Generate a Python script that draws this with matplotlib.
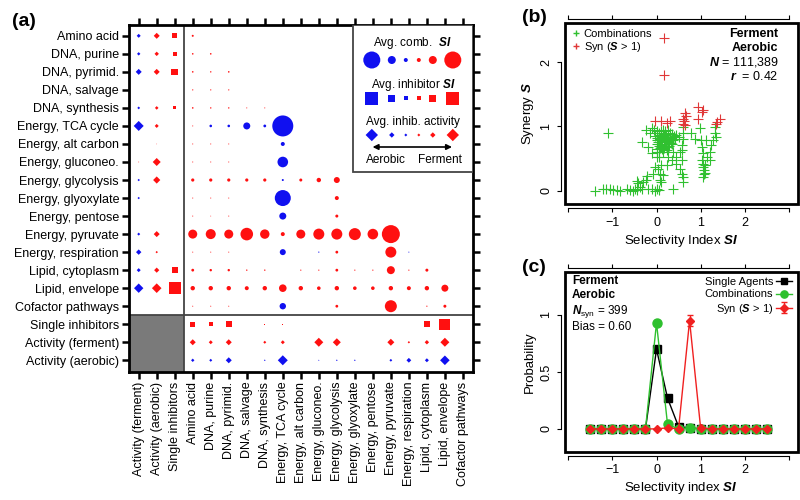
import numpy as np
import matplotlib.pyplot as plt
from matplotlib.patches import Rectangle
from matplotlib.lines import Line2D

plt.rcParams["font.family"] = ["Liberation Sans", "DejaVu Sans"]
plt.rcParams["mathtext.fontset"] = "custom"
plt.rcParams["mathtext.rm"] = "Liberation Sans"
plt.rcParams["mathtext.it"] = "Liberation Sans:italic"
plt.rcParams["mathtext.bf"] = "Liberation Sans:bold"
plt.rcParams["mathtext.bfit"] = "Liberation Sans:italic:bold"

# ---------------- data: panel (a) ----------------
categories = [
    "Amino acid", "DNA, purine", "DNA, pyrimid.", "DNA, salvage", "DNA, synthesis",
    "Energy, TCA cycle", "Energy, alt carbon", "Energy, gluconeo.", "Energy, glycolysis",
    "Energy, glyoxylate", "Energy, pentose", "Energy, pyruvate", "Energy, respiration",
    "Lipid, cytoplasm", "Lipid, envelope", "Cofactor pathways",
]
row_labels = categories + ["Single inhibitors", "Activity (ferment)", "Activity (aerobic)"]
col_labels = ["Activity (ferment)", "Activity (aerobic)", "Single inhibitors"] + categories

# signed values: negative = aerobic (blue), positive = ferment (red)
act_ferment = [-0.2, -0.17, -0.3, 0, -0.14, -0.5, 0, 0.05, -0.12, -0.12, 0, -0.15, -0.27, -0.2, -0.47, 0]
act_aerobic = [0.3, 0.22, 0.3, 0, 0.18, 0.2, 0.04, 0.4, 0.36, 0, 0, 0.3, 0.12, 0.26, 0.48, 0]
single_si = [0.25, 0.2, 0.33, 0, 0.15, 0.04, 0, 0, 0, 0, 0, 0, 0, 0.3, 0.62, 0]

comb_si = [
    [0.1],
    [0.08, 0.08],
    [0.08, 0.07, 0.08],
    [0.06, 0.06, 0.06, 0],
    [0.08, 0.07, 0.07, 0.05, 0.05],
    [0.05, -0.13, -0.13, -0.35, -0.14, -1.05],
    [0.05, 0.05, 0.05, 0, 0, -0.2, 0],
    [0.05, 0.05, 0.05, 0, 0, -0.53, 0, 0],
    [0.16, 0.16, 0.16, 0.16, 0.16, -0.1, 0.15, 0.22, 0.3],
    [0.05, 0.05, 0.05, 0, 0, -0.8, 0, 0, 0.2, 0],
    [0.05, 0.04, 0.05, 0, 0, -0.35, 0, 0, 0.15, 0, 0],
    [0.45, 0.5, 0.45, 0.63, 0.47, 0.2, 0.45, 0.55, 0.55, 0.6, 0.53, 0.9],
    [0.05, 0.05, 0.05, 0, 0, -0.3, 0, -0.06, 0.14, 0, 0, 0.55, -0.05],
    [0.14, 0.12, 0.12, 0.07, 0.07, 0, 0.06, 0.06, 0.14, 0.06, 0.06, 0.4, 0.06, 0.15],
    [0.22, 0.22, 0.22, 0.2, 0.22, 0.38, 0.22, 0.18, 0.22, 0.18, 0.18, 0.22, 0.2, 0.22, 0.35],
    [0.05, 0.05, 0.05, 0, 0, -0.32, 0, 0, 0.14, 0, 0, 0.6, 0, 0.06, 0.15, 0],
]

row_single = [0.25, 0.2, 0.32, 0, 0.07, 0.04, 0, 0, 0, 0, 0, 0, 0, 0.28, 0.55, 0]
row_ferment = [0.3, 0.2, 0.3, 0, 0.15, 0.2, 0, 0.45, 0.4, 0, 0, 0.35, 0.12, 0.22, 0.45, 0]
row_aerobic = [-0.17, -0.15, -0.3, 0, -0.08, -0.5, 0, -0.06, -0.08, -0.08, 0, -0.14, -0.24, -0.2, -0.48, 0]

legend_comb = [-0.85, -0.4, -0.2, 0.2, 0.4, 0.85]
legend_inhib = [-0.65, -0.35, -0.18, 0.18, 0.35, 0.65]
legend_act = [-0.62, -0.27, -0.15, 0.15, 0.27, 0.62]

# ---------------- data: panel (b) ----------------
combo_si = [
    -1.09, -1.40, -1.21, -1.15, -1.06, -0.98, -0.90, -0.83, -0.68, -0.60, -0.53, -0.49, -0.45,
    -0.38, -0.34, -0.19, -0.11, -0.04, 0.02, 0.06, 0.38,
    -0.41, -0.30, -0.23, -0.21, -0.45, -0.08, -0.04, 0.04, 0.08, 0.10, 0.08, 0.15, 0.00, 0.06,
    0.00, 0.26, 0.38, 0.45, 0.53, 0.57, 0.57, 0.57, 0.59, 0.60, 0.53, 0.45, 0.34, 0.23, 0.11,
    0.60, 0.60, 0.59, 0.57,
    1.04, 1.06, 1.07, 1.08, 1.06, 1.09, 1.06, 1.04, 1.15, 1.21, 1.22, 1.28, 1.32, 1.36, 1.32,
    1.24, 1.13, 0.98, 1.02, 0.87, 0.79, 1.10, 1.05,
    -0.34, -0.19, -0.11, -0.23, -0.11, -0.15,
    -0.05, 0.00, 0.05, 0.10, 0.15, 0.20, 0.25, 0.30, 0.35, 0.40, 0.45, 0.50,
    -0.03, 0.02, 0.06, 0.10, 0.14, 0.18, 0.22, 0.26, 0.30, 0.34, 0.38, 0.42,
    0.00, 0.04, 0.08, 0.12, 0.16, 0.20, 0.24, 0.28, 0.32, 0.36,
    0.00, 0.05, 0.09, 0.13, 0.17, 0.21, 0.25, 0.29,
    0.02, 0.07, 0.12, 0.18, 0.23, 0.05, 0.15, 0.10,
]
combo_s = [
    0.89, -0.01, 0.02, 0.02, 0.03, 0.01, 0.01, 0.00, 0.02, 0.01, 0.00, 0.03, 0.01,
    0.05, 0.02, 0.03, 0.02, 0.00, 0.03, 0.01, 0.03,
    0.12, 0.13, 0.16, 0.22, 0.15, 0.26, 0.37, 0.34, 0.16, 0.13, 0.26, 0.24, 0.52, 0.53,
    0.60, 0.52, 0.60, 0.52, 0.60, 0.71, 0.47, 0.26, 0.21, 0.13, 0.34, 0.42, 0.47, 0.39, 0.39,
    0.99, 0.89, 0.81, 0.63,
    0.47, 0.37, 0.32, 0.26, 0.21, 0.39, 0.58, 0.68, 0.52, 0.47, 0.60, 0.78, 0.89, 0.84, 0.99,
    0.71, 0.78, 0.97, 0.78, 0.81, 0.89, 0.28, 0.42,
    0.76, 0.68, 0.58, 0.94, 0.97, 0.90,
    0.95, 0.92, 0.90, 0.93, 0.95, 0.92, 0.94, 0.90, 0.88, 0.85, 0.86, 0.84,
    0.85, 0.82, 0.86, 0.84, 0.88, 0.85, 0.86, 0.83, 0.82, 0.80, 0.78, 0.80,
    0.78, 0.76, 0.80, 0.77, 0.79, 0.76, 0.78, 0.75, 0.74, 0.72,
    0.72, 0.70, 0.73, 0.71, 0.72, 0.70, 0.68, 0.70,
    0.65, 0.66, 0.64, 0.66, 0.63, 0.60, 0.60, 0.68,
]
syn_si = [0.17, 0.17, 0.94, 1.06, 1.04, 0.94, 1.43, 1.37, 1.36, -0.04, 0.11, 0.30,
          0.60, 0.64, 0.60, 0.63, 0.65, 0.23, 0.66]
syn_s = [2.37, 1.80, 1.30, 1.26, 1.23, 1.11, 1.12, 1.07, 1.03, 1.09, 1.09, 1.09,
         1.12, 1.20, 1.04, 1.08, 1.02, 1.05, 1.16]

# ---------------- data: panel (c) ----------------
si_bins = [-1.5, -1.25, -1.0, -0.75, -0.5, -0.25, 0.0, 0.25, 0.5, 0.75,
           1.0, 1.25, 1.5, 1.75, 2.0, 2.25, 2.5]
single_prob = [0, 0, 0, 0, 0, 0, 0.70, 0.27, 0.02, 0.01, 0, 0, 0, 0, 0, 0, 0]
comb_prob = [0, 0, 0, 0, 0, 0, 0.93, 0.04, 0.0, 0.01, 0, 0, 0, 0, 0, 0, 0]
syn_prob = [0, 0, 0, 0, 0, 0, 0.0, 0.01, 0.0, 0.95, 0.01, 0, 0, 0, 0, 0, 0]
syn_err = [0, 0, 0, 0, 0, 0, 0, 0, 0, 0.05, 0, 0, 0, 0, 0, 0, 0]

RED = "#ff1010"
BLUE = "#1010f0"
PX = 100 / 72.0


def marker_area(v, marker):
    # value 1 -> 20 px wide marker
    width_pt = 20 * abs(v) / PX
    if marker == "D":
        width_pt = width_pt / 1.414
    return width_pt ** 2


fig = plt.figure(figsize=(8, 5), dpi=100)

# ================= panel (a) =================
ax = fig.add_axes([0.161, 0.256, 0.43, 0.694])
cells = {"o": [], "s": [], "D": []}
for i in range(len(categories)):
    cells["D"].append((0, i, act_ferment[i]))
    cells["D"].append((1, i, act_aerobic[i]))
    cells["s"].append((2, i, single_si[i]))
    for k, v in enumerate(comb_si[i]):
        cells["o"].append((3 + k, i, v))
for k in range(len(categories)):
    cells["s"].append((3 + k, 16, row_single[k]))
    cells["D"].append((3 + k, 17, row_ferment[k]))
    cells["D"].append((3 + k, 18, row_aerobic[k]))

for marker, pts in cells.items():
    pts = [p for p in pts if p[2] != 0]
    xs = [p[0] for p in pts]
    ys = [p[1] for p in pts]
    ss = [marker_area(p[2], marker) for p in pts]
    cs = [RED if p[2] > 0 else BLUE for p in pts]
    ax.scatter(xs, ys, s=ss, c=cs, marker=marker, linewidths=0, zorder=2)

ax.add_patch(Rectangle((-0.6, 15.5), 3.1, 3.3, facecolor="#7a7a7a", edgecolor="none", zorder=1))
ax.axvline(2.5, color="#444444", lw=1.3, zorder=1.5)
ax.axhline(15.5, color="#444444", lw=1.3, zorder=1.5)

ax.set_xlim(-0.55, 18.55)
ax.set_ylim(18.65, -0.6)
ax.set_xticks(range(len(col_labels)))
ax.set_xticklabels(col_labels, rotation=90, fontsize=9)
ax.set_yticks(range(len(row_labels)))
ax.set_yticklabels(row_labels, fontsize=9)
ax.tick_params(direction="out", length=5, width=1.8, top=True, right=True,
               labeltop=False, labelright=False, pad=2)
for sp in ax.spines.values():
    sp.set_linewidth(2)


def afx(px):
    return (px - 129) / 344.0


def afy(py):
    return 1 - (py - 25) / 347.0


ax.add_patch(Rectangle((afx(353), afy(172)), 1 - afx(353), 1 - afy(172), transform=ax.transAxes,
                       facecolor="white", edgecolor="#444444", lw=1.3, zorder=3))
leg_x = [afx(p) for p in [372, 392, 406, 419, 433, 453]]
for title, levels, marker, ty, my in [
    ("Avg. comb.  $\\mathbfit{SI}$", legend_comb, "o", 43, 60),
    ("Avg. inhibitor $\\mathbfit{SI}$", legend_inhib, "s", 85, 98),
    ("Avg. inhib. activity", legend_act, "D", 122, 135),
]:
    ax.text(afx(413), afy(ty), title, transform=ax.transAxes, ha="center", va="center",
            fontsize=8.5, zorder=4)
    ax.scatter(leg_x, [afy(my)] * len(levels), s=[marker_area(v, marker) for v in levels],
               c=[RED if v > 0 else BLUE for v in levels], marker=marker, linewidths=0,
               transform=ax.transAxes, zorder=4, clip_on=False)
ax.annotate("", xy=(afx(455), afy(147)), xytext=(afx(370), afy(147)), xycoords="axes fraction",
            textcoords="axes fraction",
            arrowprops=dict(arrowstyle="<|-|>", color="black", lw=1.2, mutation_scale=8),
            zorder=4)
ax.text(afx(386), afy(160), "Aerobic", transform=ax.transAxes, ha="center", va="center",
        fontsize=8.5, zorder=4)
ax.text(afx(440), afy(160), "Ferment", transform=ax.transAxes, ha="center", va="center",
        fontsize=8.5, zorder=4)

fig.text(0.015, 0.956, "(a)", fontsize=14, fontweight="bold", va="center")


def r_style(a, xlim, ylim, xticks, xlabels, yticks, ylabels):
    a.set_xlim(*xlim)
    a.set_ylim(*ylim)
    a.add_patch(Rectangle((0, 0), 1, 1, transform=a.transAxes, fill=False, lw=2,
                          edgecolor="black", clip_on=False, zorder=5))
    for side in ["bottom", "top"]:
        a.spines[side].set_position(("outward", 3))
        a.spines[side].set_bounds(xticks[0], xticks[-1])
        a.spines[side].set_linewidth(0.8)
    for side in ["left", "right"]:
        a.spines[side].set_position(("outward", 3))
        a.spines[side].set_bounds(yticks[0], yticks[-1])
        a.spines[side].set_linewidth(0.8)
    a.set_xticks(xticks)
    a.set_xticklabels(xlabels, fontsize=9)
    a.set_yticks(yticks)
    a.set_yticklabels(ylabels, fontsize=9, rotation=90, va="center")
    a.tick_params(direction="out", length=3, width=0.8, top=True, right=True,
                  labeltop=False, labelright=False, pad=3)


# ================= panel (b) =================
axb = fig.add_axes([0.706, 0.592, 0.291, 0.362])
axb.scatter(combo_si, combo_s, marker="+", c="#30c030", s=45, linewidths=0.8, zorder=2)
axb.scatter(syn_si, syn_s, marker="+", c="#e03838", s=45, linewidths=0.8, zorder=3)
r_style(axb, (-2.08, 3.2), (-0.21, 2.61), [-2, -1, 0, 1, 2, 3],
        ["", "\u22121", "0", "1", "2", ""], [0, 1, 2], ["0", "1", "2"])
axb.set_xlabel("Selectivity Index $\\mathbfit{SI}$", fontsize=9.5, labelpad=3)
axb.set_ylabel("Synergy $\\mathbfit{S}$", fontsize=9.5, labelpad=3)
hb = [Line2D([], [], marker="+", ls="none", color="#30c030", markersize=5),
      Line2D([], [], marker="+", ls="none", color="#e03838", markersize=5)]
axb.legend(hb, ["Combinations", "Syn ($\\mathbfit{S}$ > 1)"], loc="upper left", frameon=False,
           fontsize=8, handletextpad=0.2, labelspacing=0.15, borderaxespad=0.3,
           handlelength=1.0, borderpad=0.2)
axb.text(0.918, 0.939, "Ferment", transform=axb.transAxes, ha="right", va="center",
         fontsize=9, fontweight="bold")
axb.text(0.918, 0.862, "Aerobic", transform=axb.transAxes, ha="right", va="center",
         fontsize=9, fontweight="bold")
axb.text(0.918, 0.785, "$\\mathbfit{N}$ = 111,389", transform=axb.transAxes, ha="right",
         va="center", fontsize=9)
axb.text(0.918, 0.707, "$\\mathbfit{r}$  = 0.42", transform=axb.transAxes, ha="right",
         va="center", fontsize=9)
fig.text(0.652, 0.964, "(b)", fontsize=14, fontweight="bold", va="center")

# ================= panel (c) =================
axc = fig.add_axes([0.706, 0.0966, 0.291, 0.36])
axc.errorbar(si_bins, single_prob, color="black", marker="s", markersize=6, lw=1,
             label="Single Agents", zorder=2)
axc.errorbar(si_bins, comb_prob, color="#2ec02e", marker="o", markersize=6.5, lw=1,
             label="Combinations", zorder=3)
axc.errorbar(si_bins, syn_prob, yerr=syn_err, color="#f02020", marker="D", markersize=4.5,
             lw=1, capsize=2, label="Syn ($\\mathbfit{S}$ > 1)", zorder=4)
r_style(axc, (-2.08, 3.2), (-0.2, 1.38), [-2, -1, 0, 1, 2, 3],
        ["", "\u22121", "0", "1", "2", ""], [0, 0.5, 1], ["0", "0.5", "1"])
axc.set_xlabel("Selectivity index $\\mathbfit{SI}$", fontsize=9.5, labelpad=3)
axc.set_ylabel("Probability", fontsize=9.5, labelpad=3)
axc.legend(loc="upper right", frameon=False, fontsize=8, markerfirst=False,
           handlelength=1.4, handletextpad=0.3, labelspacing=0.2, borderaxespad=0.3,
           borderpad=0.2, markerscale=0.8)
axc.text(0.03, 0.95, "Ferment", transform=axc.transAxes, ha="left", va="center",
         fontsize=8.5, fontweight="bold")
axc.text(0.03, 0.872, "Aerobic", transform=axc.transAxes, ha="left", va="center",
         fontsize=8.5, fontweight="bold")
axc.text(0.03, 0.78, "$\\mathbfit{N}_{\\mathrm{syn}}$ = 399", transform=axc.transAxes,
         ha="left", va="center", fontsize=8.5)
axc.text(0.03, 0.69, "Bias = 0.60", transform=axc.transAxes, ha="left", va="center",
         fontsize=8.5)
fig.text(0.652, 0.466, "(c)", fontsize=14, fontweight="bold", va="center")

fig.savefig("out.png", dpi=100)
